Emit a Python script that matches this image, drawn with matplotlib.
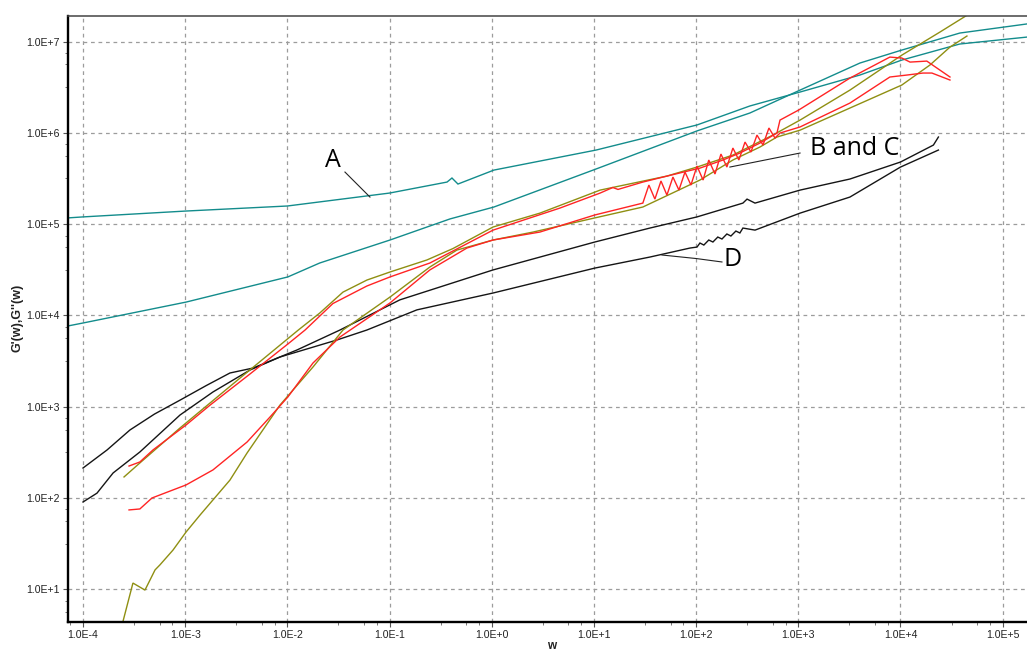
import numpy as np
import matplotlib
matplotlib.use("Agg")
import matplotlib.pyplot as plt
from matplotlib.ticker import FixedLocator, FuncFormatter, NullFormatter

# ---- Material A (teal): two moduli curves ----
teal1_w = [7.1e-5, 1.0e-4, 1.0e-3, 1.0e-2, 0.10, 0.365, 0.408, 0.467, 1.05, 10.5,
           102, 336, 1040, 4010, 1.03e4, 3.8e4, 1.73e5]
teal1_g = [1.17e5, 1.20e5, 1.39e5, 1.58e5, 2.19e5, 2.89e5, 3.2e5, 2.75e5, 3.91e5, 6.48e5,
           1.22e6, 1.97e6, 2.80e6, 4.30e6, 6.27e6, 9.4e6, 1.12e7]

teal2_w = [7.1e-5, 1.0e-4, 1.02e-3, 1.01e-2, 2.07e-2, 0.101, 0.39, 1.05, 10.5, 102,
           336, 1040, 4010, 1.03e4, 3.81e4, 1.73e5]
teal2_g = [7.66e3, 8.26e3, 1.4e4, 2.64e4, 3.75e4, 6.7e4, 1.14e5, 1.54e5, 4.02e5, 1.05e6,
           1.65e6, 2.94e6, 5.82e6, 8.07e6, 1.24e7, 1.56e7]

# ---- Materials B and C (red / olive) ----
red1_w = [2.82e-4, 3.6e-4, 4.84e-4, 1.02e-3, 1.75e-3, 4.3e-3, 1.01e-2, 1.49e-2, 2.79e-2,
          6.0e-2, 0.101, 0.248, 1.03, 4.65, 11.5, 15.3, 17.2, 30.1, 51.8, 109, 183, 268,
          421, 618, 662, 1010, 3200, 7870, 1.03e4, 1.24e4, 1.81e4, 3.05e4]
red1_g = [224, 248, 336, 631, 1040, 2280, 4860, 6920, 1.35e4,
          2.1e4, 2.64e4, 3.75e4, 8.6e4, 1.5e5, 2.19e5, 2.52e5, 2.4e5, 2.89e5, 3.36e5, 4.11e5,
          5.04e5, 6.01e5, 7.73e5, 9.95e5, 1.38e6, 1.78e6, 3.98e6, 6.76e6, 6.6e6, 5.96e6,
          6.11e6, 4.09e6]

red2_w = [2.82e-4, 3.6e-4, 4.73e-4, 5.66e-4, 1.02e-3, 1.87e-3, 4.03e-3, 6.76e-3, 1.01e-2,
          1.78e-2, 3.27e-2, 0.101, 0.248, 0.571, 1.03, 2.96, 10.2,
          30.1, 34.5, 39.5, 45.3, 51.8, 59.3, 67.9, 77.8, 89.0, 102, 117, 133, 153, 175,
          200, 229, 262, 301, 344, 394, 451, 516, 591, 662,
          1040, 3200, 7870, 1.16e4, 1.66e4, 2.03e4, 3.05e4]
red2_g = [74, 75.8, 100, 108, 139, 203, 410, 771, 1276,
          3010, 5800, 1.37e4, 3.15e4, 5.47e4, 6.7e4, 8.19e4, 1.26e5,
          1.70e5, 2.68e5, 1.88e5, 2.97e5, 2.08e5, 3.28e5, 2.36e5, 3.72e5, 2.68e5, 4.33e5,
          3.04e5, 5.04e5, 3.54e5, 5.86e5, 4.22e5, 6.82e5, 5.04e5, 7.93e5, 6.16e5, 9.46e5,
          7.35e5, 1.13e6, 8.77e5, 9.95e5,
          1.16e6, 2.12e6, 4.09e6, 4.30e6, 4.52e6, 4.52e6, 3.79e6]

olive1_w = [2.52e-4, 3.6e-4, 8.9e-4, 3.44e-3, 1.28e-2, 2.07e-2, 3.5e-2, 6.0e-2, 0.101, 0.232,
            0.417, 1.03, 2.96, 11.5, 51.8, 102, 229, 564, 1040, 3200, 1.03e4, 2.43e4, 5.35e4]
olive1_g = [170, 242, 585, 2060, 6920, 1.06e4, 1.8e4, 2.44e4, 2.99e4, 4.05e4,
            5.4e4, 9.3e4, 1.32e5, 2.36e5, 3.36e5, 4.22e5, 5.71e5, 9.46e5, 1.38e6, 2.94e6,
            7.1e6, 1.27e7, 2.2e7]

olive2_w = [2.41e-4, 3.08e-4, 4.04e-4, 5.07e-4, 5.66e-4, 7.6e-4, 1.02e-3, 1.4e-3, 2.74e-3,
            4.03e-3, 8.45e-3, 1.78e-2, 3.5e-2, 0.101, 0.248, 0.456, 1.03, 2.54, 10.2, 30.1,
            109, 229, 421, 618, 1040, 3200, 1.03e4, 1.94e4, 3.05e4, 4.47e4]
olive2_g = [4.06, 11.7, 9.8, 16.3, 18.5, 26.9, 42.4, 65.2, 157,
            311, 1040, 2720, 6920, 1.59e4, 3.39e4, 5.2e4, 6.7e4, 8.19e4, 1.17e5, 1.54e5,
            3.04e5, 5.04e5, 6.99e5, 9.0e5, 1.07e6, 1.87e6, 3.34e6, 5.53e6, 8.7e6, 1.15e7]

# ---- Material D (black) ----
black1_w = [1e-4, 1.72e-4, 2.88e-4, 5.0e-4, 8.9e-4, 1.6e-3, 2.74e-3, 4.6e-3, 1.24e-2,
            3.27e-2, 0.126, 1.03, 10.2, 35.3, 102, 287, 315, 377, 1040, 3200, 1.0e4,
            2.1e4, 2.35e4]
black1_g = [213, 336, 556, 830, 1180, 1700, 2340, 2650, 4180,
            6920, 1.48e4, 3.15e4, 6.37e4, 9.06e4, 1.2e5, 1.70e5, 1.88e5, 1.70e5, 2.36e5,
            3.12e5, 4.79e5, 7.35e5, 9.0e5]

black2_w = [1e-4, 1.37e-4, 1.97e-4, 3.6e-4, 8.9e-4, 1.87e-3, 4.3e-3, 8.45e-3, 3.05e-2, 6.0e-2,
            0.185, 1.03, 10.2, 35.3, 87, 102, 109, 119, 133, 146, 163, 179, 200, 219, 245,
            268, 287, 377, 1040, 3200, 1.0e4, 2.35e4]
black2_g = [90.4, 113, 188, 319, 811, 1450, 2520, 3500, 5380, 6920,
            1.15e4, 1.76e4, 3.3e4, 4.36e4, 5.47e4, 5.61e4, 6.21e4, 5.9e4, 6.7e4, 6.37e4,
            7.22e4, 6.87e4, 7.8e4, 7.41e4, 8.4e4, 8.0e4, 9.06e4, 8.6e4, 1.32e5, 1.98e5,
            4.22e5, 6.48e5]

x_decades = list(range(-4, 6))
y_decades = list(range(1, 8))

TEAL = "#138c8c"
RED = "#ff2424"
OLIVE = "#8f8f12"
BLACK = "#151515"

fig = plt.figure(figsize=(10.27, 6.53), dpi=100)
ax = fig.add_axes([68 / 1027, 31 / 653, 959 / 1027, 606.5 / 653])
ax.set_xscale("log")
ax.set_yscale("log")

series = [
    (teal1_w, teal1_g, TEAL), (teal2_w, teal2_g, TEAL),
    (black1_w, black1_g, BLACK), (black2_w, black2_g, BLACK),
    (olive1_w, olive1_g, OLIVE), (olive2_w, olive2_g, OLIVE),
    (red1_w, red1_g, RED), (red2_w, red2_g, RED),
]
for w, g, c in series:
    ax.plot(w, g, color=c, lw=1.0, solid_joinstyle="miter")

ax.set_xlim(7.13e-5, 1.73e5)
ax.set_ylim(4.38, 1.93e7)

# ticks: decades with labels, minor marks at 0.5 / 0.75 / 0.875 of each decade
def sci_label(v, pos):
    e = int(round(np.log10(v)))
    return f"1.0E{'+' if e >= 0 else '-'}{abs(e)}"

ax.xaxis.set_major_locator(FixedLocator([10.0 ** k for k in x_decades]))
ax.yaxis.set_major_locator(FixedLocator([10.0 ** k for k in y_decades]))
ax.xaxis.set_major_formatter(FuncFormatter(sci_label))
ax.yaxis.set_major_formatter(FuncFormatter(sci_label))
minor_fracs = [0.5, 0.75, 0.875]
ax.xaxis.set_minor_locator(FixedLocator([10.0 ** (k + f) for k in range(-5, 6) for f in minor_fracs]))
ax.yaxis.set_minor_locator(FixedLocator([10.0 ** (k + f) for k in range(0, 8) for f in minor_fracs]))
ax.xaxis.set_minor_formatter(NullFormatter())
ax.yaxis.set_minor_formatter(NullFormatter())

for lab in ax.get_xticklabels() + ax.get_yticklabels():
    lab.set_family("Liberation Sans")
ax.tick_params(which="major", direction="out", length=3.5, width=0.8, color="#555555",
               labelsize=7.6, labelcolor="#222222", pad=2.5, top=False, right=False)
ax.tick_params(which="minor", direction="out", length=2.5, width=0.7, color="#777777",
               top=False, right=False)

ax.grid(True, which="major", color="#9c9c9c", linestyle=(0, (3, 3)), linewidth=0.9)
ax.set_axisbelow(True)

ax.spines["left"].set_linewidth(1.7)
ax.spines["left"].set_color("black")
ax.spines["bottom"].set_linewidth(1.7)
ax.spines["bottom"].set_color("black")
ax.spines["top"].set_linewidth(1.1)
ax.spines["top"].set_color("#444444")
ax.spines["right"].set_visible(False)

# annotations with leader lines
ann_font = dict(family="Open Sans", fontsize=18, color="black")
ax.plot([3.66e-2, 6.43e-2], [3.72e5, 1.98e5], color="#222222", lw=0.8)
ax.text(2.79e-2, 5.04e5, "A", ha="center", va="center", **ann_font)
ax.plot([214, 1040], [4.22e5, 6.01e5], color="#222222", lw=0.8)
ax.text(1.3e3, 6.82e5, "B and C", ha="left", va="center", **ann_font)
ax.plot([46.3, 100, 179], [4.59e4, 4.2e4, 3.85e4], color="#222222", lw=0.8)
ax.text(187, 4.15e4, "D", ha="left", va="center", **ann_font)

fig.text(18 / 1027, 1 - 318 / 653, "G'(w),G''(w)", rotation=90, ha="center", va="center",
         fontsize=9, fontweight="bold", family="Liberation Sans", color="#222222")
fig.text(552 / 1027, 1 / 653, "w", ha="center", va="bottom",
         fontsize=8.5, fontweight="bold", family="Liberation Sans", color="#222222")

fig.savefig("out.png", dpi=100)
